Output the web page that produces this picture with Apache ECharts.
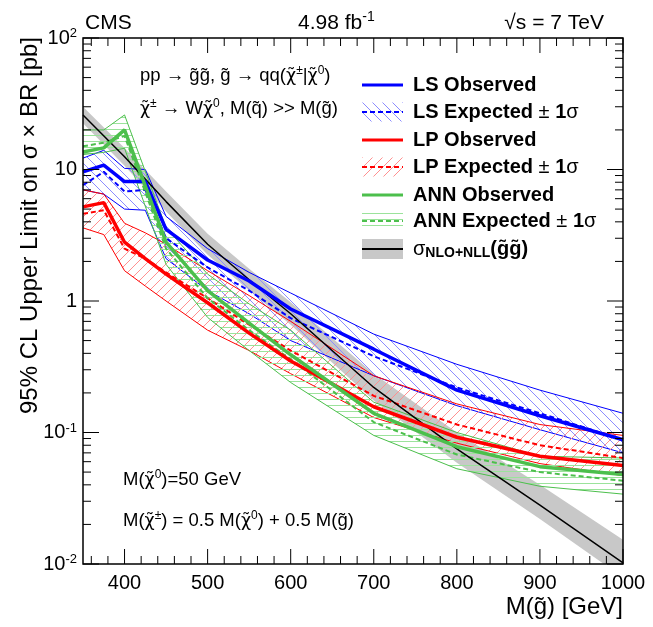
<!DOCTYPE html>
<html><head><meta charset="utf-8">
<script src="https://cdn.jsdelivr.net/npm/echarts@6/dist/echarts.min.js"></script>
<style>html,body{margin:0;padding:0;background:#fff}#c{width:653px;height:627px}</style>
</head><body><div id="c"></div>
<script>
// ---------------- data ----------------
const massLS = [350,375,400,425,450,500,550,600,700,800,900,1000];
const lsObs  = [9.6,10.8,8.1,8.1,3.5,2.05,1.42,0.87,0.43,0.21,0.134,0.088];
const lsExp  = [7.6,9.6,6.8,7.0,3.0,1.8,1.2,0.74,0.38,0.22,0.14,0.088];
const lsUp   = [12.2,14.0,10.2,10.0,4.4,2.5,1.65,1.15,0.56,0.33,0.21,0.14];
const lsDn   = [7.0,6.5,5.0,4.9,2.1,1.2,0.8,0.5,0.27,0.16,0.105,0.07];

const massLP = [350,375,400,425,450,500,550,600,700,800,900,1000];
const lpObs  = [5.2,5.6,2.8,2.1,1.6,0.97,0.57,0.35,0.157,0.092,0.066,0.056];
const lpExp  = [4.6,4.9,2.5,2.1,1.65,1.05,0.66,0.42,0.19,0.115,0.08,0.064];
const lpUp   = [7.0,6.5,3.9,3.3,2.7,1.7,1.1,0.7,0.27,0.165,0.115,0.095];
const lpDn   = [3.6,3.2,1.7,1.3,1.0,0.6,0.42,0.28,0.13,0.083,0.058,0.047];

const massANN = [350,375,400,450,500,550,600,700,800,900,1000];
const annObs  = [13.6,14.6,20,2.8,1.2,0.68,0.39,0.14,0.078,0.055,0.048];
const annExp  = [15,16,18,2.5,1.05,0.6,0.36,0.12,0.068,0.05,0.043];
const annUp   = [20,20,26,3.6,1.6,0.95,0.6,0.17,0.1,0.066,0.064];
const annDn   = [13,13.5,14.5,1.9,0.75,0.42,0.24,0.095,0.053,0.039,0.034];

const massXS = [350,400,450,500,550,600,700,800,900,1000];
const xsec   = [26,12.5,5.7,2.7,1.45,0.8,0.22,0.075,0.028,0.0102];
const xsecUp = [30,14.6,6.8,3.25,1.76,0.98,0.28,0.1,0.04,0.0153];
const xsecDn = [22.5,10.7,4.8,2.25,1.2,0.66,0.175,0.059,0.022,0.0079];

const xMajorTicks = [400,500,600,700,800,900,1000];
const xMinorTicks = [360,380,420,440,460,480,520,540,560,580,620,640,660,680,720,740,760,780,820,840,860,880,920,940,960,980];
const yMajorTicks = [0.01,0.1,1,10,100];
const yMinorTicks = [0.02,0.03,0.04,0.05,0.06,0.07,0.08,0.09,0.2,0.3,0.4,0.5,0.6,0.7,0.8,0.9,2,3,4,5,6,7,8,9,20,30,40,50,60,70,80,90];
const yTickLabels = {'0.01':'{b|10}{s|-2}','0.1':'{b|10}{s|-1}','1':'{b|1}','10':'{b|10}','100':'{b|10}{s|2}'};

// ---------------- style ----------------
const F = 'Liberation Sans';
const FC = 'DejaVu Sans';
const BLUE = '#0000ff', RED = '#ff0000', GREEN = '#4cbf4c';
const XMIN = 350, XMAX = 1000, YMIN = 0.01, YMAX = 100;
function hatch(color, kind, s) {
  const c = document.createElement('canvas'); c.width = s; c.height = s;
  const g = c.getContext('2d'); g.strokeStyle = color; g.lineWidth = 1;
  g.beginPath();
  if (kind === 'back') { for (let k=-1;k<=1;k++){ g.moveTo(0,k*s); g.lineTo(s,s+k*s);} }
  else if (kind === 'fwd') { for (let k=0;k<=2;k++){ g.moveTo(0,k*s); g.lineTo(s,k*s-s);} }
  else { g.moveTo(0,s/2+0.5); g.lineTo(s,s/2+0.5); }
  g.stroke();
  return {image: c, repeat: 'repeat'};
}
const patBlue = hatch('#8c8cff','back',10);
const patRed = hatch('#ff9090','fwd',10);
const patGreen = hatch('#9be39b','h',6);

function band(name, xs, lo, hi, fill, edge, edgeW) {
  return {
    name, type:'custom', clip:true, z:1,
    data: xs.map((x,i)=>[x, lo[i], hi[i]]),
    encode:{x:0, y:[1,2]},
    renderItem(params, api) {
      if (params.dataIndex !== 0) return;
      const up = xs.map((x,i)=>api.coord([x, hi[i]]));
      const dn = xs.map((x,i)=>api.coord([x, lo[i]]));
      const poly = up.concat(dn.slice().reverse());
      const ch = [{type:'polygon', shape:{points:poly}, style:{fill:fill, stroke:null}}];
      if (edge) {
        ch.push({type:'polyline', shape:{points:up}, style:{stroke:edge, lineWidth:edgeW, fill:null}});
        ch.push({type:'polyline', shape:{points:dn}, style:{stroke:edge, lineWidth:edgeW, fill:null}});
      }
      return {type:'group', children:ch};
    }
  };
}
function line(name, xs, ys, color, width, dashed, z) {
  return {name, type:'line', data: xs.map((x,i)=>[x, ys[i]]), symbol:'none', z: z||3,
    lineStyle:{color, width, type: dashed ? [5,3] : 'solid'}, itemStyle:{color}, animation:false};
}
// tick marks drawn through the axis scales
function xTicks(vals, len) {
  return {type:'custom', z:10, silent:true, clip:false,
    data: vals.map(v=>[v, 1]), encode:{x:0, y:1},
    renderItem(params, api) {
      const v = api.value(0);
      const b = api.coord([v, YMIN]), t = api.coord([v, YMAX]);
      return {type:'group', children:[
        {type:'line', shape:{x1:b[0], y1:b[1], x2:b[0], y2:b[1]-len}, style:{stroke:'#000', lineWidth:1}},
        {type:'line', shape:{x1:t[0], y1:t[1], x2:t[0], y2:t[1]+len}, style:{stroke:'#000', lineWidth:1}}]};
    }};
}
function yTicks(vals, len) {
  return {type:'custom', z:10, silent:true, clip:false,
    data: vals.map(v=>[500, v]), encode:{x:0, y:1},
    renderItem(params, api) {
      const v = api.value(1);
      const l = api.coord([XMIN, v]), r = api.coord([XMAX, v]);
      return {type:'group', children:[
        {type:'line', shape:{x1:l[0], y1:l[1], x2:l[0]+len, y2:l[1]}, style:{stroke:'#000', lineWidth:1}},
        {type:'line', shape:{x1:r[0], y1:r[1], x2:r[0]-len, y2:r[1]}, style:{stroke:'#000', lineWidth:1}}]};
    }};
}

// legend graphics
const LX0 = 362, LX1 = 403, LT = 413;
function legLine(y, color, w, dashed) {
  return {type:'line', shape:{x1:LX0, y1:y, x2:LX1, y2:y}, style:{stroke:color, lineWidth:w, lineDash: dashed?[5,3]:null}};
}
function legBox(y, fill) {
  return {type:'rect', shape:{x:LX0, y:y-9.5, width:LX1-LX0, height:19}, style:{fill:fill, stroke:null}};
}
function legText(y, rich) {
  return {type:'text', x:LT, y:y, style:{text:rich, verticalAlign:'middle', align:'left', fontFamily:F, fontSize:20, fontWeight:'bold', fill:'#000',
    rich:{b:{fontFamily:F, fontSize:20, fontWeight:'bold', fill:'#000'}, n:{fontFamily:F, fontSize:20, fontWeight:'normal', fill:'#000'},
          sub:{fontFamily:F, fontSize:14, fontWeight:'bold', fill:'#000', verticalAlign:'bottom', padding:[8,0,0,0]}}}};
}
function ann(x, y, text, size) {
  return {type:'text', x, y, style:{text, fontFamily:F, fontSize:size, fill:'#000', verticalAlign:'middle',
    rich:{t:{fontFamily:F, fontSize:size, fill:'#000', lineHeight:size+4},
          c:{fontFamily:FC, fontSize:size-1, fill:'#000', lineHeight:size+4},
          sup:{fontFamily:F, fontSize:12, fill:'#000', verticalAlign:'top', lineHeight:12}}}};
}
const tl = '\u0303';
const g = 'g'+tl, q = 'q'+tl, chi = '{c|\u03C7'+tl+'}';
const AS = 18.5;

const graphics = [
  {type:'text', x:85, y:23, style:{text:'CMS', fontFamily:F, fontSize:21, fill:'#000', verticalAlign:'middle'}},
  {type:'text', x:298, y:23, style:{text:'{t|4.98 fb}{sup|-1}', fontFamily:F, fontSize:21, fill:'#000', verticalAlign:'middle',
    rich:{t:{fontFamily:F, fontSize:21, fill:'#000', lineHeight:25}, sup:{fontFamily:F, fontSize:14, fill:'#000', verticalAlign:'top', lineHeight:14}}}},
  {type:'text', x:604, y:23, style:{text:'\u221As = 7 TeV', fontFamily:F, fontSize:21, fill:'#000', verticalAlign:'middle', align:'right'}},
  ann(140, 76, '{t|pp \u2192 '+g+g+', '+g+' \u2192 qq(}'+chi+'{sup|\u00B1}{t||}'+chi+'{sup|0}{t|)}', AS),
  ann(140, 109, chi+'{sup|\u00B1}{t| \u2192 W}'+chi+'{sup|0}{t|, M('+q+') >> M('+g+')}', AS),
  ann(123, 480, '{t|M(}'+chi+'{sup|0}{t|)=50 GeV}', AS),
  ann(123, 521, '{t|M(}'+chi+'{sup|\u00B1}{t|) = 0.5 M(}'+chi+'{sup|0}{t|) + 0.5 M('+g+')}', AS),
  // axis titles
  {type:'text', x:623, y:607, style:{text:'M('+g+') [GeV]', fontFamily:F, fontSize:24, fill:'#000', align:'right', verticalAlign:'middle'}},
  {type:'text', x:30, y:37, rotation:Math.PI/2, style:{text:'95% CL Upper Limit on \u03C3 \u00D7 BR [pb]', fontFamily:F, fontSize:24, fill:'#000', align:'right', verticalAlign:'middle'}},
  // legend
  legLine(85, BLUE, 3),
  legText(85, '{b|LS Observed}'),
  legBox(112, patBlue), legLine(112, BLUE, 2, true),
  legText(112, '{b|LS Expected}{n| \u00B1 }{b|1}{n|\u03C3}'),
  legLine(140, RED, 3),
  legText(140, '{b|LP Observed}'),
  legBox(167, patRed), legLine(167, RED, 2, true),
  legText(167, '{b|LP Expected}{n| \u00B1 }{b|1}{n|\u03C3}'),
  legLine(195, GREEN, 3),
  legText(195, '{b|ANN Observed}'),
  legBox(221, patGreen), legLine(221, GREEN, 2, true),
  legText(221, '{b|ANN Expected}{n| \u00B1 }{b|1}{n|\u03C3}'),
  {type:'rect', shape:{x:LX0, y:239, width:LX1-LX0, height:20}, style:{fill:'#c8c8c8'}},
  legLine(249, '#000', 2),
  legText(249, '{n|\u03C3}{sub|NLO+NLL}{b|('+g+g+')}'),
];

const chart = echarts.init(document.getElementById('c'), null, {renderer:'canvas'});
chart.setOption({
  animation:false,
  backgroundColor:'#fff',
  grid:{left:83, right:30, top:38, bottom:63, containLabel:false, show:true, borderColor:'#000', borderWidth:1.5, backgroundColor:'transparent', z:20},
  xAxis:{type:'value', min:XMIN, max:XMAX, position:'bottom',
    axisLine:{show:false}, axisTick:{show:false}, splitLine:{show:false},
    axisLabel:{show:true, customValues:xMajorTicks, formatter: v => String(v), fontFamily:F, fontSize:20, color:'#000', margin:9}},
  yAxis:{type:'log', logBase:10, min:YMIN, max:YMAX, position:'left',
    axisLine:{show:false}, axisTick:{show:false}, splitLine:{show:false},
    axisLabel:{show:true, customValues:yMajorTicks, margin:6,
      formatter: v => yTickLabels[String(+(+v).toPrecision(3))] || '',
      rich:{b:{fontFamily:F, fontSize:20, color:'#000', lineHeight:22},
            s:{fontFamily:F, fontSize:13, color:'#000', lineHeight:13, verticalAlign:'top'}}}},
  series:[
    band('xsBand', massXS, xsecDn, xsecUp, '#c8c8c8', null, 0),
    band('lsBand', massLS, lsDn, lsUp, patBlue, BLUE, 1),
    band('lpBand', massLP, lpDn, lpUp, patRed, RED, 1),
    band('annBand', massANN, annDn, annUp, patGreen, GREEN, 1),
    line('xs', massXS, xsec, '#000', 1.5, false, 4),
    line('lsExp', massLS, lsExp, BLUE, 2, true),
    line('lpExp', massLP, lpExp, RED, 2, true),
    line('annExp', massANN, annExp, GREEN, 2, true),
    line('lsObs', massLS, lsObs, BLUE, 3.5, false, 5),
    line('lpObs', massLP, lpObs, RED, 3.5, false, 5),
    line('annObs', massANN, annObs, GREEN, 3.5, false, 5),
    xTicks(xMajorTicks, 15), xTicks(xMinorTicks, 8),
    yTicks(yMajorTicks, 16), yTicks(yMinorTicks, 8),
  ],
  graphic: graphics
});
</script></body></html>
